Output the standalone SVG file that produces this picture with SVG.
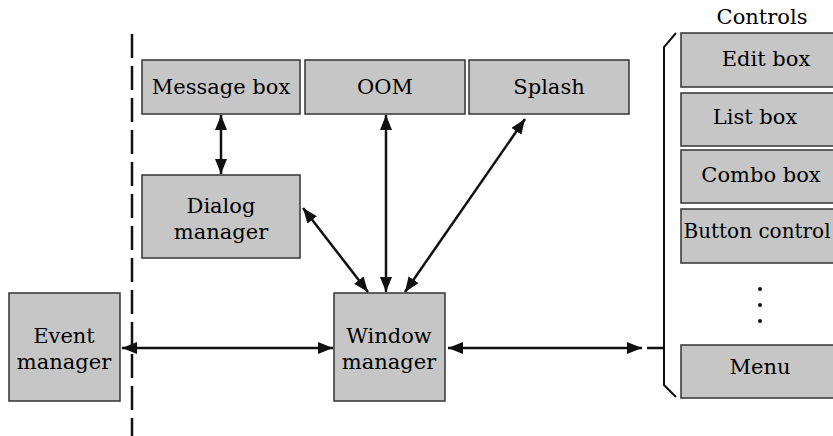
<svg xmlns="http://www.w3.org/2000/svg" width="833" height="436" viewBox="0 0 833 436">
  <style>
    .box { fill: #c6c6c6; stroke: #333; stroke-width: 1.5; }
    .lbl { font-family: "DejaVu Serif", "Liberation Serif", serif; font-size: 21px; fill: #000; text-anchor: middle; }
    .conn { stroke: #111; stroke-width: 2.5; fill: none; }
    .arr { marker-start: url(#ah); marker-end: url(#ah); }
  </style>
  <defs>
    <marker id="ah" viewBox="0 0 15 12" refX="15" refY="6" markerWidth="15" markerHeight="12" markerUnits="userSpaceOnUse" orient="auto-start-reverse">
      <path d="M0,0 L15,6 L0,12 z" fill="#111"/>
    </marker>
  </defs>
  <rect width="833" height="436" fill="#ffffff"/>

  <g id="boundary">
    <line x1="132" y1="34" x2="132" y2="436" stroke="#111" stroke-width="2.5" stroke-dasharray="24 8"/>
  </g>

  <g id="message-box">
    <rect class="box" x="142" y="60" width="158" height="54"/>
    <text class="lbl" x="221" y="94">Message box</text>
  </g>
  <g id="oom">
    <rect class="box" x="305" y="60" width="160" height="54"/>
    <text class="lbl" x="385" y="94">OOM</text>
  </g>
  <g id="splash">
    <rect class="box" x="469" y="60" width="160" height="54"/>
    <text class="lbl" x="549" y="94">Splash</text>
  </g>
  <g id="dialog-manager">
    <rect class="box" x="142" y="175" width="158" height="83"/>
    <text class="lbl" x="221" y="213">Dialog</text>
    <text class="lbl" x="221" y="239">manager</text>
  </g>
  <g id="event-manager">
    <rect class="box" x="9" y="293" width="111" height="108"/>
    <text class="lbl" x="64" y="343">Event</text>
    <text class="lbl" x="64" y="369">manager</text>
  </g>
  <g id="window-manager">
    <rect class="box" x="334" y="293" width="111" height="108"/>
    <text class="lbl" x="389" y="343">Window</text>
    <text class="lbl" x="389" y="369">manager</text>
  </g>

  <g id="controls">
    <text class="lbl" x="762" y="24">Controls</text>
    <path d="M676,33 L664,47 L664,385 L676,397" stroke="#111" stroke-width="2" fill="none"/>
    <g id="edit-box">
      <rect class="box" x="681" y="33" width="180" height="54"/>
      <text class="lbl" x="766" y="66">Edit box</text>
    </g>
    <g id="list-box">
      <rect class="box" x="681" y="93" width="180" height="53"/>
      <text class="lbl" x="755" y="124">List box</text>
    </g>
    <g id="combo-box">
      <rect class="box" x="681" y="150" width="180" height="53"/>
      <text class="lbl" x="761" y="182">Combo box</text>
    </g>
    <g id="button-control">
      <rect class="box" x="681" y="209" width="180" height="54"/>
      <text class="lbl" x="757" y="238" style="font-size:20px">Button control</text>
    </g>
    <g id="ellipsis">
      <circle cx="760" cy="289" r="2" fill="#111"/>
      <circle cx="760" cy="305" r="2" fill="#111"/>
      <circle cx="760" cy="321" r="2" fill="#111"/>
    </g>
    <g id="menu">
      <rect class="box" x="681" y="345" width="180" height="53"/>
      <text class="lbl" x="760" y="374">Menu</text>
    </g>
  </g>

  <g id="connectors">
    <line class="conn arr" x1="221" y1="115" x2="221" y2="174"/>
    <line class="conn arr" x1="386" y1="115" x2="386" y2="292"/>
    <line class="conn arr" x1="303" y1="208" x2="368" y2="292"/>
    <line class="conn arr" x1="525" y1="119" x2="405" y2="292"/>
    <line class="conn arr" x1="122" y1="348" x2="333" y2="348"/>
    <line class="conn arr" x1="448" y1="348" x2="642" y2="348"/>
    <line class="conn" x1="647" y1="348" x2="664" y2="348"/>
  </g>
</svg>
